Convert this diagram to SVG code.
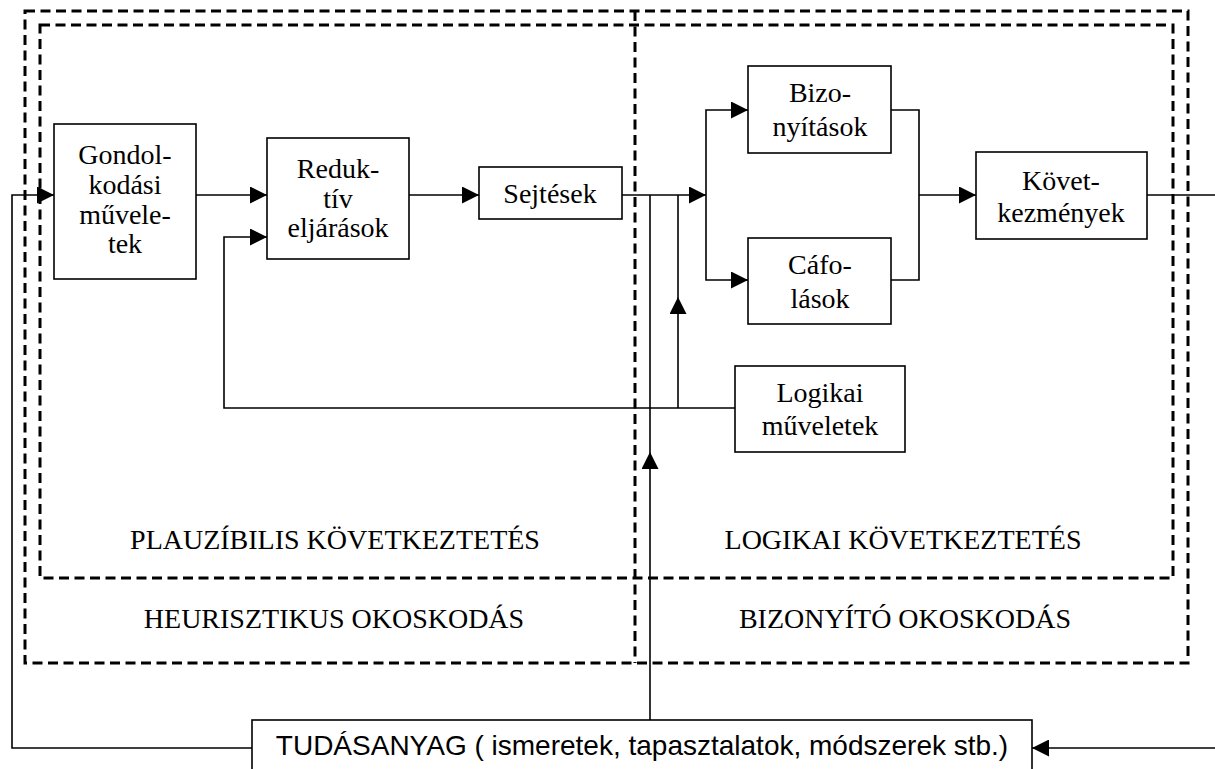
<svg xmlns="http://www.w3.org/2000/svg" width="1215" height="769" viewBox="0 0 1215 769">
<style>
.bg{fill:#fff}
.dash{fill:none;stroke:#000;stroke-width:3;stroke-dasharray:10 5.5}
.box{fill:#fff;stroke:#000;stroke-width:1.6}
.ln{fill:none;stroke:#000;stroke-width:1.6}
.t{font-family:"Liberation Serif","Times New Roman",serif;font-size:28px;fill:#000;text-anchor:middle}
.s{font-family:"Liberation Sans",Arial,sans-serif;font-size:28px;fill:#000;text-anchor:middle}
</style>
<defs>
<marker id="ah" markerUnits="userSpaceOnUse" markerWidth="17" markerHeight="17" refX="17" refY="8.5" orient="auto">
<path d="M0,0 L17,8.5 L0,17 Z" fill="#000"/>
</marker>
</defs>
<rect class="bg" x="0" y="0" width="1215" height="769"/>
<g id="regions">
<path class="dash" d="M25,11 H1188 V663 H25 Z"/>
<path class="dash" d="M40,25 H1173 V578 H40 Z"/>
<path class="dash" d="M635,11 V663"/>
<text class="t" x="335" y="549">PLAUZÍBILIS KÖVETKEZTETÉS</text>
<text class="t" x="903" y="549">LOGIKAI KÖVETKEZTETÉS</text>
<text class="t" x="334" y="628">HEURISZTIKUS OKOSKODÁS</text>
<text class="t" x="905" y="628">BIZONYÍTÓ OKOSKODÁS</text>
</g>
<g id="connectors">
<path class="ln" d="M252,748 H12 V195 H54" marker-end="url(#ah)"/>
<path class="ln" d="M196,195 H267" marker-end="url(#ah)"/>
<path class="ln" d="M409,195 H479" marker-end="url(#ah)"/>
<path class="ln" d="M622,195 H706" marker-end="url(#ah)"/>
<path class="ln" d="M735,408 H224 V237 H267" marker-end="url(#ah)"/>
<path class="ln" d="M650,720 V452" marker-end="url(#ah)"/>
<path class="ln" d="M650,452 V195"/>
<path class="ln" d="M678,408 V297" marker-end="url(#ah)"/>
<path class="ln" d="M678,297 V195"/>
<path class="ln" d="M706,195 V110 H748" marker-end="url(#ah)"/>
<path class="ln" d="M706,195 V280 H748" marker-end="url(#ah)"/>
<path class="ln" d="M891,110 H919 V280 H891"/>
<path class="ln" d="M919,195 H976" marker-end="url(#ah)"/>
<path class="ln" d="M1147,195 H1215"/>
<path class="ln" d="M1215,748 H1032" marker-end="url(#ah)"/>
</g>
<g id="gondolkodasi">
<rect class="box" x="54" y="124" width="142" height="155"/>
<text class="t" x="125" y="164">Gondol-</text>
<text class="t" x="125" y="194">kodási</text>
<text class="t" x="125" y="224">művele-</text>
<text class="t" x="125" y="253">tek</text>
</g>
<g id="reduktiv">
<rect class="box" x="267" y="138" width="142" height="121"/>
<text class="t" x="338" y="178">Reduk-</text>
<text class="t" x="338" y="208">tív</text>
<text class="t" x="338" y="237">eljárások</text>
</g>
<g id="sejtesek">
<rect class="box" x="479" y="167" width="143" height="52"/>
<text class="t" x="550" y="203">Sejtések</text>
</g>
<g id="bizonyitasok">
<rect class="box" x="748" y="66" width="143" height="87"/>
<text class="t" x="820" y="102">Bizo-</text>
<text class="t" x="820" y="136">nyítások</text>
</g>
<g id="cafolasok">
<rect class="box" x="748" y="238" width="143" height="86"/>
<text class="t" x="820" y="274">Cáfo-</text>
<text class="t" x="820" y="308">lások</text>
</g>
<g id="kovetkezmenyek">
<rect class="box" x="976" y="152" width="171" height="87"/>
<text class="t" x="1061" y="190">Követ-</text>
<text class="t" x="1061" y="222">kezmények</text>
</g>
<g id="logikai">
<rect class="box" x="735" y="366" width="170" height="86"/>
<text class="t" x="820" y="402">Logikai</text>
<text class="t" x="820" y="435">műveletek</text>
</g>
<g id="tudasanyag">
<rect class="box" x="252" y="720" width="780" height="70"/>
<text class="s" x="642" y="755">TUDÁSANYAG ( ismeretek, tapasztalatok, módszerek stb.)</text>
</g>
</svg>
